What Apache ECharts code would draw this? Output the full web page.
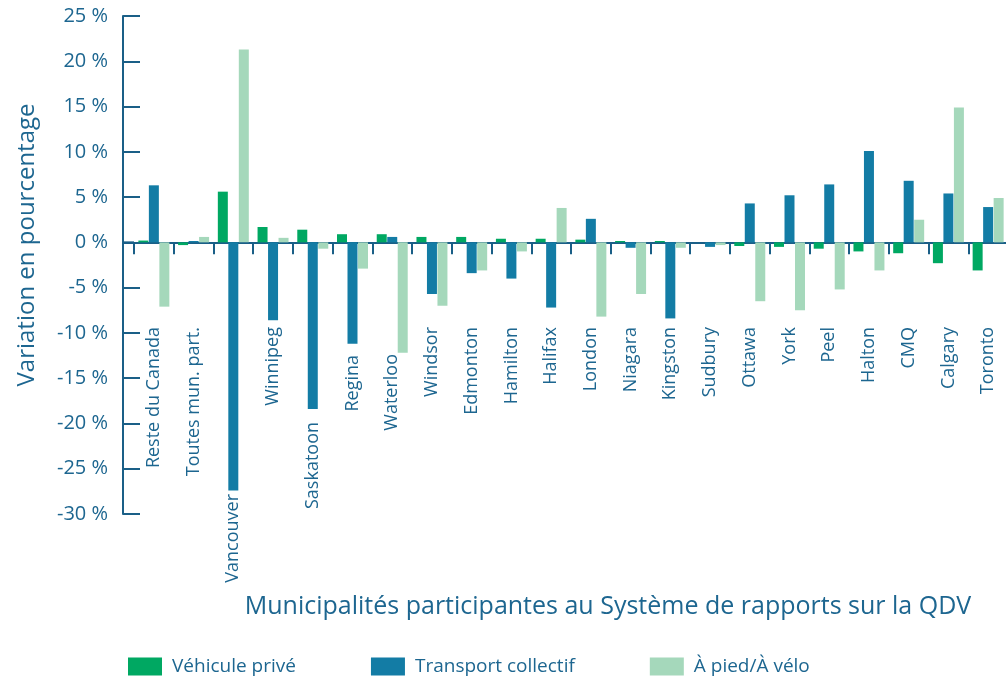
<!DOCTYPE html>
<html>
<head>
<meta charset="utf-8">
<script src="https://cdn.jsdelivr.net/npm/echarts@6/dist/echarts.min.js"></script>
<style>
  html, body { margin: 0; padding: 0; background: #fff; }
  #chart { width: 1006px; height: 679px; }
</style>
</head>
<body>
<div id="chart"></div>
<script>
// municipalités
const categories = ['Reste du Canada', 'Toutes mun. part.', 'Vancouver', 'Winnipeg', 'Saskatoon', 'Regina', 'Waterloo',
    'Windsor', 'Edmonton', 'Hamilton', 'Halifax', 'London', 'Niagara', 'Kingston', 'Sudbury', 'Ottawa', 'York', 'Peel',
    'Halton', 'CMQ', 'Calgary', 'Toronto'];

// variation en %
const vehicule = [0.2, -0.3, 5.6, 1.7, 1.4, 0.9, 0.9, 0.6, 0.6, 0.4, 0.4, 0.3, 0.15, 0.15, 0, -0.4, -0.5, -0.7, -1.0, -1.2, -2.3, -3.1];
const transport = [6.3, 0.15, -27.4, -8.6, -18.4, -11.2, 0.6, -5.7, -3.4, -4.0, -7.2, 2.6, -0.6, -8.4, -0.5, 4.3, 5.2, 6.4, 10.1, 6.8, 5.4, 3.9];
const pied = [-7.1, 0.6, 21.3, 0.5, -0.7, -2.9, -12.2, -7.0, -3.1, -1.0, 3.8, -8.2, -5.7, -0.6, -0.3, -6.5, -7.5, -5.2, -3.1, 2.5, 14.9, 4.9];

const seriesNames = ['Véhicule privé', 'Transport collectif', 'À pied/À vélo'];
const yTicks = [-30, -25, -20, -15, -10, -5, 0, 5, 10, 15, 20, 25];

// décalage des étiquettes pour éviter les barres
const labelDrop = { 'Vancouver': 167, 'Saskatoon': 95, 'Regina': 28, 'Waterloo': 27 };

const axisColor = '#1a5f87';
const textColor = '#1d6690';
const font = 'Open Sans';
const gridLeft = 134;
const yOffset = 11;

const chart = echarts.init(document.getElementById('chart'));

const option = {
    animation: false,
    textStyle: { fontFamily: font, color: textColor },
    grid: {
        left: gridLeft,
        right: -2,
        top: 16,
        bottom: 165,
        containLabel: false,
        outerBoundsMode: 'none'
    },
    legend: {
        data: seriesNames,
        left: 128,
        top: 657,
        padding: 0,
        icon: 'rect',
        itemWidth: 34,
        itemHeight: 18,
        itemGap: 75,
        textStyle: { fontFamily: font, fontSize: 19, color: textColor, padding: [0, 0, 0, 5] }
    },
    xAxis: {
        type: 'category',
        data: categories.map(c => ({
            value: c,
            textStyle: labelDrop[c] ? { padding: [0, labelDrop[c], 0, 0] } : {}
        })),
        name: 'Municipalités participantes au Système de rapports sur la QDV',
        nameLocation: 'middle',
        nameGap: 80,
        nameMoveOverlap: false,
        nameTextStyle: { fontFamily: font, fontSize: 25, color: textColor, padding: [0, 0, 0, 74] },
        axisLine: { onZero: true, lineStyle: { color: axisColor, width: 2 } },
        axisTick: { show: true, length: 12, lineStyle: { color: axisColor, width: 2 } },
        axisLabel: { rotate: 90, margin: -187, fontFamily: font, fontSize: 18, color: textColor, interval: 0, hideOverlap: false },
        splitLine: { show: false }
    },
    yAxis: {
        type: 'value',
        min: yTicks[0],
        max: yTicks[yTicks.length - 1],
        interval: 5,
        offset: yOffset,
        name: 'Variation en pourcentage',
        nameLocation: 'middle',
        nameGap: 84,
        nameMoveOverlap: false,
        nameTextStyle: { fontFamily: font, fontSize: 24, color: textColor, padding: [0, 0, 0, 40] },
        axisLine: { show: true, lineStyle: { color: axisColor, width: 2 } },
        axisTick: { show: true, inside: true, length: 17, lineStyle: { color: axisColor, width: 2 } },
        axisLabel: { formatter: '{value} %', margin: 15, fontFamily: font, fontSize: 20, color: textColor, padding: [17, 0, 0, 0] },
        splitLine: { show: false }
    },
    series: [
        { name: seriesNames[0], type: 'bar', data: vehicule, itemStyle: { color: '#00a862' }, barGap: '5%', barCategoryGap: '22%' },
        { name: seriesNames[1], type: 'bar', data: transport, itemStyle: { color: '#137ca5' } },
        { name: seriesNames[2], type: 'bar', data: pied, itemStyle: { color: '#a5d8bb' } }
    ]
};

chart.setOption(option);

// prolonge la ligne du zéro jusqu'à l'axe vertical
const y0 = chart.convertToPixel({ yAxisIndex: 0 }, 0);
chart.setOption({
    graphic: [{
        type: 'line',
        shape: { x1: gridLeft - yOffset, y1: y0, x2: gridLeft, y2: y0 },
        style: { stroke: axisColor, lineWidth: 2 },
        z: 10
    }]
});
</script>
</body>
</html>
